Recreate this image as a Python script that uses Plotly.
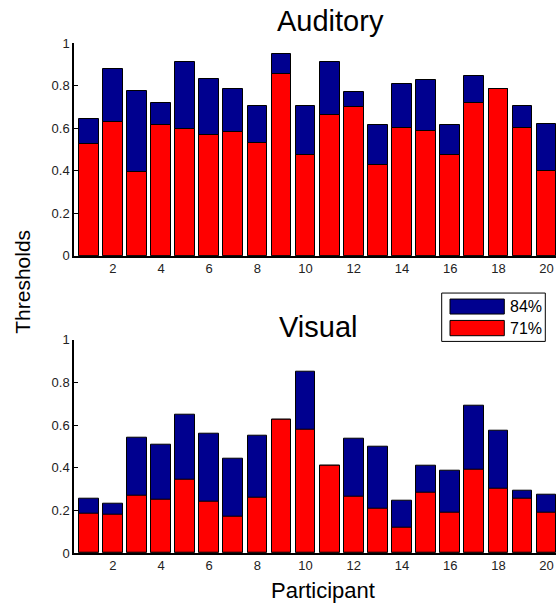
import plotly.graph_objects as go
from plotly.subplots import make_subplots

participants = list(range(1, 21))

auditory_84 = [0.645, 0.88, 0.775, 0.72, 0.91, 0.83, 0.785, 0.705, 0.95, 0.705,
               0.91, 0.77, 0.615, 0.805, 0.825, 0.615, 0.845, 0.785, 0.705, 0.62]
auditory_71 = [0.525, 0.63, 0.395, 0.615, 0.595, 0.57, 0.58, 0.53, 0.855, 0.475,
               0.66, 0.70, 0.425, 0.60, 0.585, 0.475, 0.72, 0.785, 0.60, 0.40]
visual_84 = [0.255, 0.23, 0.54, 0.51, 0.65, 0.56, 0.44, 0.55, 0.625, 0.85,
             0.41, 0.535, 0.50, 0.245, 0.41, 0.385, 0.69, 0.575, 0.29, 0.275]
visual_71 = [0.185, 0.18, 0.27, 0.25, 0.345, 0.24, 0.17, 0.26, 0.625, 0.58,
             0.41, 0.265, 0.21, 0.12, 0.285, 0.19, 0.39, 0.30, 0.255, 0.19]

series_names = ["84%", "71%"]
y_tick_vals = [0, 0.2, 0.4, 0.6, 0.8, 1]
y_tick_text = ["0", "0.2", "0.4", "0.6", "0.8", "1"]
x_tick_vals = [2, 4, 6, 8, 10, 12, 14, 16, 18, 20]
panel_titles = ["Auditory", "Visual"]

BLUE = "#00008F"
RED = "#FF0000"
FONT = "Liberation Sans, Arial, Helvetica, sans-serif"

W, H = 556, 606
L, R = 74, 556
TOP, BOT = 43, 553.5


def px(x):
    return (x - L) / (R - L)


def py(y):
    return (BOT - y) / (BOT - TOP)


fig = make_subplots(rows=2, cols=1)

for row, (v84, v71) in enumerate([(auditory_84, auditory_71), (visual_84, visual_71)], start=1):
    fig.add_trace(go.Bar(x=participants, y=v84, name=series_names[0], marker_color=BLUE,
                         marker_line_color="black", marker_line_width=1, width=0.82,
                         showlegend=False), row=row, col=1)
    fig.add_trace(go.Bar(x=participants, y=v71, name=series_names[1], marker_color=RED,
                         marker_line_color="black", marker_line_width=1, width=0.82,
                         showlegend=False), row=row, col=1)

axis_common = dict(showline=True, linecolor="black", linewidth=1.5, showgrid=False,
                   zeroline=False, tickfont=dict(family=FONT, size=13, color="#222"))

top_dom = [py(256), 1.0]
bot_dom = [0.0, py(340)]

fig.update_layout(
    width=W, height=H, barmode="overlay", bargap=0,
    paper_bgcolor="white", plot_bgcolor="white",
    margin=dict(l=L, r=W - R, t=TOP, b=H - BOT),
    showlegend=False,
    xaxis=dict(domain=[0, 1], range=[0.39, 20.39], tickvals=x_tick_vals, ticks="",
               **axis_common),
    xaxis2=dict(domain=[0, 1], range=[0.39, 20.39], tickvals=x_tick_vals, ticks="",
                **axis_common),
    yaxis=dict(domain=top_dom, range=[0, 1], tickvals=y_tick_vals, ticktext=y_tick_text,
               ticks="inside", ticklen=4, tickcolor="black", **axis_common),
    yaxis2=dict(domain=bot_dom, range=[0, 1], tickvals=y_tick_vals, ticktext=y_tick_text,
                ticks="inside", ticklen=4, tickcolor="black", **axis_common),
)

annotations = [
    dict(text=panel_titles[0], x=px(330), y=py(21), xref="paper", yref="paper",
         xanchor="center", yanchor="middle", showarrow=False,
         font=dict(family=FONT, size=29, color="black")),
    dict(text=panel_titles[1], x=px(318), y=py(327), xref="paper", yref="paper",
         xanchor="center", yanchor="middle", showarrow=False,
         font=dict(family=FONT, size=29, color="black")),
    dict(text="Participant", x=px(322.5), y=py(591), xref="paper", yref="paper",
         xanchor="center", yanchor="middle", showarrow=False,
         font=dict(family=FONT, size=22, color="black")),
    dict(text="Thresholds", x=px(23), y=py(282), xref="paper", yref="paper",
         xanchor="center", yanchor="middle", showarrow=False, textangle=-90,
         font=dict(family=FONT, size=21, color="black")),
    dict(text=series_names[0], x=px(508), y=py(306.8), xref="paper", yref="paper",
         xanchor="left", yanchor="middle", showarrow=False,
         font=dict(family=FONT, size=16, color="black")),
    dict(text=series_names[1], x=px(508), y=py(328.3), xref="paper", yref="paper",
         xanchor="left", yanchor="middle", showarrow=False,
         font=dict(family=FONT, size=16, color="black")),
]
fig.update_layout(annotations=annotations)

shapes = [
    dict(type="rect", xref="paper", yref="paper", x0=px(441.7), x1=px(545.3),
         y0=py(341.7), y1=py(293.3), line=dict(color="black", width=1), fillcolor="white"),
    dict(type="rect", xref="paper", yref="paper", x0=px(450), x1=px(504.3),
         y0=py(314.3), y1=py(299.3), line=dict(color="black", width=1), fillcolor=BLUE),
    dict(type="rect", xref="paper", yref="paper", x0=px(450), x1=px(504.3),
         y0=py(336), y1=py(320.7), line=dict(color="black", width=1), fillcolor=RED),
]
fig.update_layout(shapes=shapes)

fig.write_html("out.html")
